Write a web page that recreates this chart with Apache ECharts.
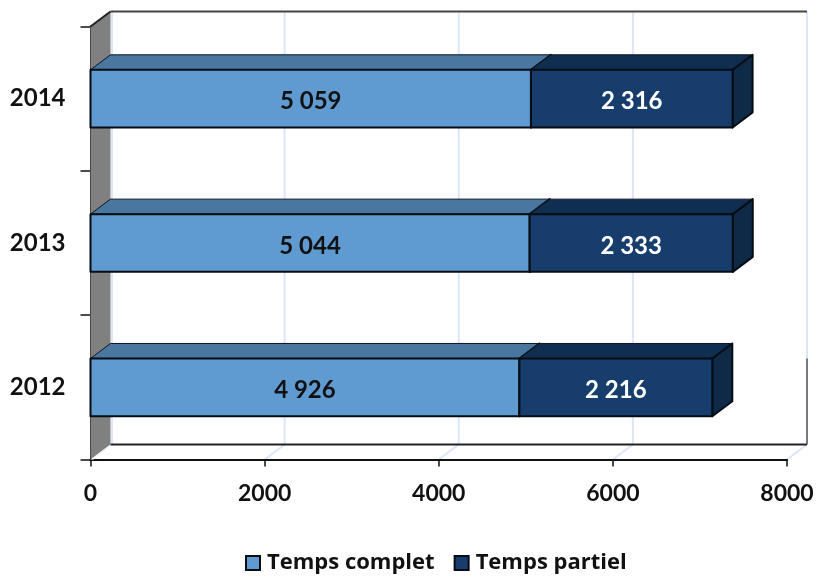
<!DOCTYPE html>
<html>
<head>
<meta charset="utf-8">
<style>
html, body { margin: 0; padding: 0; background: #fff; }
#chart { width: 817px; height: 577px; }
</style>
<script src="https://cdn.jsdelivr.net/npm/echarts@6/dist/echarts.min.js"></script>
</head>
<body>
<div id="chart"></div>
<script>
var years = ['2012', '2013', '2014'];
var tempsComplet = [4926, 5044, 5059];
var tempsPartiel = [2216, 2333, 2316];
var xTicks = [0, 2000, 4000, 6000, 8000];

// fake 3d depth, px
var dx = 20;
var dy = -15;
var font = 'Lato, "Noto Sans", sans-serif';

function fmt(v) {
    return String(v).replace(/\B(?=(\d{3})+$)/g, ' ');
}

function poly(points, fill, stroke, lw) {
    return {
        type: 'polygon',
        shape: { points: points },
        style: { fill: fill, stroke: stroke || null, lineWidth: lw || 0, lineJoin: 'round' }
    };
}

function line(x1, y1, x2, y2, color, lw) {
    return {
        type: 'line',
        shape: { x1: x1, y1: y1, x2: x2, y2: y2 },
        style: { stroke: color, lineWidth: lw }
    };
}

// one stacked block: front, top and end faces
function blockRenderer(front, top, side, textColor) {
    return function (params, api) {
        var a = api.coord([api.value(0), api.value(2)]);
        var b = api.coord([api.value(1), api.value(2)]);
        var h = api.size([0, 1])[1] * 0.4;
        var x0 = a[0], x1 = b[0], y0 = a[1] - h / 2, y1 = a[1] + h / 2;
        return {
            type: 'group',
            children: [
                poly([[x0, y0], [x0 + dx, y0 + dy], [x1 + dx, y0 + dy], [x1, y0]], top, '#0a1622', 1),
                poly([[x1, y0], [x1 + dx, y0 + dy], [x1 + dx, y1 + dy], [x1, y1]], side, '#050c14', 2),
                poly([[x0, y0], [x1, y0], [x1, y1], [x0, y1]], front, '#050c14', 2),
                {
                    type: 'text',
                    style: {
                        x: (x0 + x1) / 2,
                        y: a[1] + 3,
                        text: fmt(api.value(1) - api.value(0)),
                        fill: textColor,
                        font: 'bold 24px ' + font,
                        align: 'center',
                        verticalAlign: 'middle'
                    }
                }
            ]
        };
    };
}

function wallRenderer(params) {
    var c = params.coordSys;
    var l = c.x, r = c.x + c.width, t = c.y, b = c.y + c.height;
    return {
        type: 'group',
        children: [
            poly([[l, t], [l + dx, t + dy], [l + dx, b + dy], [l, b]], '#808080'),
            line(l + dx + 1.5, t + dy, l + dx + 1.5, b + dy, '#dce6f8', 2),
            poly([[l, b], [l + dx, b + dy], [l + dx + 3, b + dy], [l + 3, b]], '#f4f7fc'),
            line(l, t, l + dx, t + dy, '#222', 2),
            line(l + dx, t + dy, r + dx, t + dy, '#444', 2),
            line(l + dx, b + dy, r + dx, b + dy, '#222', 2),
            line(r + dx, b + dy - 86, r + dx, b + dy, '#555', 1.5)
        ]
    };
}

function gridRenderer(params, api) {
    var c = params.coordSys;
    var p = api.coord([api.value(0), 0]);
    var x = p[0], b = c.y + c.height, t = c.y;
    return {
        type: 'group',
        children: [
            line(x + dx, t + dy, x + dx, b + dy, '#dce6f8', 2),
            line(x, b, x + dx, b + dy, '#dce6f8', 2)
        ]
    };
}

var chart = echarts.init(document.getElementById('chart'));
chart.setOption({
    animation: false,
    textStyle: { fontFamily: font },
    grid: { left: 90.5, top: 26.5, width: 696.5, height: 433 },
    legend: {
        left: 245,
        top: 552,
        padding: 0,
        itemWidth: 14,
        itemHeight: 14,
        itemGap: 19,
        icon: 'rect',
        selectedMode: false,
        textStyle: { fontSize: 22, fontWeight: 'bold', color: '#111', fontFamily: '"Open Sans", sans-serif', padding: [0, 0, 0, 2] },
        data: [
            { name: 'Temps complet', itemStyle: { color: '#5f9bd1', borderColor: '#050c14', borderWidth: 2 } },
            { name: 'Temps partiel', itemStyle: { color: '#163d6b', borderColor: '#050c14', borderWidth: 2 } }
        ]
    },
    xAxis: {
        type: 'value',
        min: 0,
        max: 8000,
        interval: 2000,
        splitLine: { show: false },
        axisLine: { show: true, lineStyle: { color: '#111', width: 2 } },
        axisTick: { show: true, length: 7, lineStyle: { color: '#111', width: 1.5 } },
        axisLabel: {
            fontSize: 23, fontWeight: 'bold', color: '#111', margin: 23,
            formatter: function (v) { return String(v); }
        }
    },
    yAxis: {
        type: 'category',
        data: years,
        axisLine: { show: true, lineStyle: { color: '#111', width: 2 } },
        axisTick: { show: true, length: 10, lineStyle: { color: '#111', width: 1.5 } },
        axisLabel: { fontSize: 24, fontWeight: 'bold', color: '#111', margin: 25, padding: [4, 0, 0, 0] }
    },
    series: [
        {
            name: 'wall',
            type: 'custom',
            coordinateSystem: 'cartesian2d',
            renderItem: wallRenderer,
            data: [[0]],
            silent: true,
            z: 1
        },
        {
            name: 'grid',
            type: 'custom',
            coordinateSystem: 'cartesian2d',
            renderItem: gridRenderer,
            data: xTicks.slice(1).map(function (v) { return [v]; }),
            silent: true,
            z: 0
        },
        {
            name: 'Temps complet',
            type: 'custom',
            coordinateSystem: 'cartesian2d',
            renderItem: blockRenderer('#5f9bd1', '#4a779f', '#4a779f', '#111'),
            data: tempsComplet.map(function (v, i) { return [0, v, i]; }),
            encode: { x: [0, 1], y: 2 },
            itemStyle: { color: '#5f9bd1' },
            z: 3
        },
        {
            name: 'Temps partiel',
            type: 'custom',
            coordinateSystem: 'cartesian2d',
            renderItem: blockRenderer('#163d6b', '#0f2e50', '#0f2a47', '#fff'),
            data: tempsPartiel.map(function (v, i) { return [tempsComplet[i], tempsComplet[i] + v, i]; }),
            encode: { x: [0, 1], y: 2 },
            itemStyle: { color: '#163d6b' },
            z: 3
        }
    ]
});
</script>
</body>
</html>
